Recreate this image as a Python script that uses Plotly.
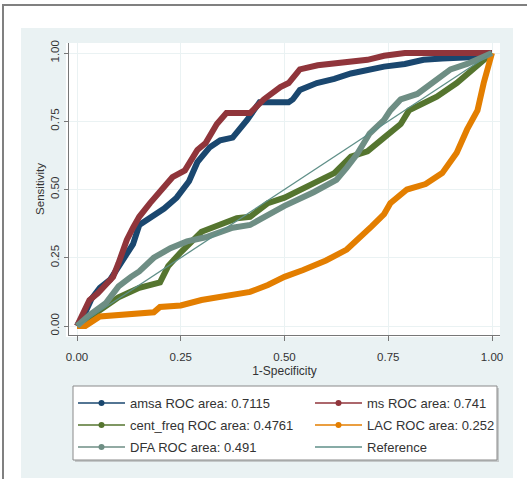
import plotly.graph_objects as go

# ---------------- data ----------------
amsa_fpr = [0, .02, .035, .055, .08, .10, .12, .135, .15, .18, .21, .24, .27, .29, .32, .345, .375, .41, .44, .47, .51, .52, .537, .578, .62, .66, .70, .74, .79, .835, .88, .93, .96, 1]
amsa_tpr = [0, .05, .10, .14, .17, .22, .26, .30, .37, .40, .43, .47, .53, .60, .655, .68, .69, .755, .82, .82, .82, .83, .865, .89, .905, .925, .94, .95, .96, .975, .98, .98, .985, 1]

ms_fpr = [0, .02, .03, .05, .07, .087, .10, .12, .135, .15, .176, .20, .23, .26, .29, .31, .337, .36, .417, .45, .49, .51, .537, .58, .66, .70, .74, .79, 1]
ms_tpr = [0, .06, .095, .12, .15, .18, .23, .315, .36, .40, .45, .49, .545, .57, .645, .67, .74, .78, .78, .83, .875, .89, .94, .955, .965, .975, .99, 1.0, 1.0]

cent_fpr = [0, .02, .05, .08, .10, .15, .20, .22, .25, .30, .34, .385, .417, .46, .50, .54, .58, .62, .66, .70, .74, .78, .80, .835, .867, .915, .96, 1]
cent_tpr = [0, .02, .05, .08, .105, .14, .16, .22, .27, .345, .37, .395, .40, .45, .47, .50, .535, .56, .62, .64, .69, .74, .79, .815, .84, .89, .95, 1]

lac_fpr = [0, .02, .055, .10, .185, .20, .25, .30, .39, .417, .46, .50, .545, .60, .65, .68, .71, .74, .755, .795, .84, .88, .915, .94, .965, .98, .995, 1]
lac_tpr = [0, 0, .035, .04, .05, .07, .075, .095, .12, .125, .15, .18, .205, .24, .28, .32, .365, .41, .45, .50, .52, .56, .635, .72, .79, .89, .985, 1]

dfa_fpr = [0, .03, .07, .10, .13, .15, .185, .225, .265, .31, .375, .417, .44, .50, .57, .625, .65, .675, .705, .74, .755, .78, .82, .867, .90, .94, 1]
dfa_tpr = [0, .04, .085, .145, .18, .20, .25, .285, .31, .325, .36, .37, .39, .44, .49, .535, .58, .63, .705, .755, .79, .83, .85, .90, .94, .96, 1]

ref_x = [0, 1]
ref_y = [0, 1]

names = ["amsa ROC area: 0.7115", "ms ROC area: 0.741", "cent_freq ROC area: 0.4761",
         "LAC ROC area: 0.252", "DFA ROC area: 0.491", "Reference"]
tick_vals = [0, 0.25, 0.5, 0.75, 1]
tick_text = ["0.00", "0.25", "0.50", "0.75", "1.00"]

# ---------------- styling ----------------
C_NAVY = "#1a476f"
C_MAROON = "#90353b"
C_GREEN = "#55752f"
C_ORANGE = "#e37e00"
C_TEAL = "#6e8e84"
C_REF = "#5f8f88"
BG = "#eaf2f3"
FONT = "Liberation Sans, Arial, sans-serif"
TXT = "#333333"

W, H = 527, 479
ML, MR, MT = 20, 20, 43
PLOT_L, PLOT_R, PLOT_T, PLOT_B = 69, 500, 43, 335
GW = W - ML - MR
GH = PLOT_B - PLOT_T


def px(x):
    return (x - ML) / GW


def py(y):
    return (PLOT_B - y) / GH


fig = go.Figure()
series = [
    (amsa_fpr, amsa_tpr, C_NAVY),
    (ms_fpr, ms_tpr, C_MAROON),
    (cent_fpr, cent_tpr, C_GREEN),
    (lac_fpr, lac_tpr, C_ORANGE),
    (dfa_fpr, dfa_tpr, C_TEAL),
]
for xs, ys, c in series:
    fig.add_trace(go.Scatter(x=xs, y=ys, mode="lines", line=dict(color=c, width=6),
                             showlegend=False, hoverinfo="skip"))
fig.add_trace(go.Scatter(x=ref_x, y=ref_y, mode="lines", line=dict(color=C_REF, width=1.3),
                         showlegend=False, hoverinfo="skip"))

# legend entries (thin line + dot, as in the reference)
leg_cols = [C_NAVY, C_MAROON, C_GREEN, C_ORANGE, C_TEAL, C_REF]
leg_ids = ["legend", "legend", "legend2", "legend2", "legend3", "legend3"]
for i, (nm, c, lg) in enumerate(zip(names, leg_cols, leg_ids)):
    mode = "lines" if nm == "Reference" else "lines+markers"
    fig.add_trace(go.Scatter(x=[None], y=[None], mode=mode, name=nm, legend=lg,
                             line=dict(color=c, width=1.5), marker=dict(color=c, size=6)))

shapes = [
    # outer frame: left and top edges (the rest lies outside the picture)
    dict(type="rect", xref="paper", yref="paper", x0=px(2), x1=px(527), y0=py(6), y1=py(4),
         fillcolor="#808080", line=dict(width=0), layer="below"),
    dict(type="rect", xref="paper", yref="paper", x0=px(2), x1=px(4), y0=py(479), y1=py(4),
         fillcolor="#808080", line=dict(width=0), layer="below"),
    # light graph region
    dict(type="rect", xref="paper", yref="paper", x0=px(21), x1=px(513), y0=py(478), y1=py(28),
         fillcolor=BG, line=dict(width=0), layer="below"),
    # white plot region
    dict(type="rect", xref="paper", yref="paper", x0=px(66), x1=px(500), y0=py(337), y1=py(43),
         fillcolor="white", line=dict(width=0), layer="below"),
    # legend box shadow + box
    dict(type="rect", xref="paper", yref="paper", x0=px(75), x1=px(499), y0=py(462), y1=py(388),
         fillcolor="#c4c8c9", line=dict(width=0), layer="below"),
    dict(type="rect", xref="paper", yref="paper", x0=px(73), x1=px(497), y0=py(460), y1=py(386),
         fillcolor="white", line=dict(color="#8a8a8a", width=1), layer="below"),
]

leg_common = dict(orientation="h", xanchor="left", yanchor="middle", bgcolor="rgba(0,0,0,0)",
                  borderwidth=0, itemwidth=47, entrywidth=175, entrywidthmode="pixels",
                  font=dict(family=FONT, size=13, color=TXT), itemclick=False, itemdoubleclick=False)

fig.update_layout(
    width=W, height=H,
    margin=dict(l=ML, r=MR, t=MT, b=H - PLOT_B, pad=0, autoexpand=False),
    paper_bgcolor="white", plot_bgcolor="white",
    font=dict(family=FONT, size=11, color=TXT),
    shapes=shapes,
    legend=dict(x=px(73), y=py(403), **leg_common),
    legend2=dict(x=px(73), y=py(425), **leg_common),
    legend3=dict(x=px(73), y=py(447), **leg_common),
    xaxis=dict(domain=[px(PLOT_L), px(PLOT_R)], range=[(PLOT_L - 77) / 415, (PLOT_R - 77) / 415],
               tickvals=tick_vals, ticktext=tick_text, ticks="outside", ticklen=5, tickcolor="#777",
               showline=True, linecolor="#777", linewidth=1, showgrid=True, gridcolor=BG, gridwidth=1,
               zeroline=False, ticklabelstandoff=6, tickfont=dict(size=11.5, color=TXT),
               title=dict(text="1-Specificity", font=dict(size=12, color=TXT), standoff=4),
               fixedrange=True),
    yaxis=dict(range=[(326 - PLOT_B) / 273, (326 - PLOT_T) / 273],
               tickvals=tick_vals, ticktext=tick_text, ticks="outside", ticklen=4, tickcolor="#777",
               showline=True, linecolor="#777", linewidth=1, showgrid=True, gridcolor=BG, gridwidth=1,
               zeroline=False, tickangle=-90, ticklabelstandoff=0, tickfont=dict(size=11.5, color=TXT),
               title=dict(text="Sensitivity", font=dict(size=11.5, color=TXT), standoff=2),
               fixedrange=True),
)

fig.write_html("out.html")
